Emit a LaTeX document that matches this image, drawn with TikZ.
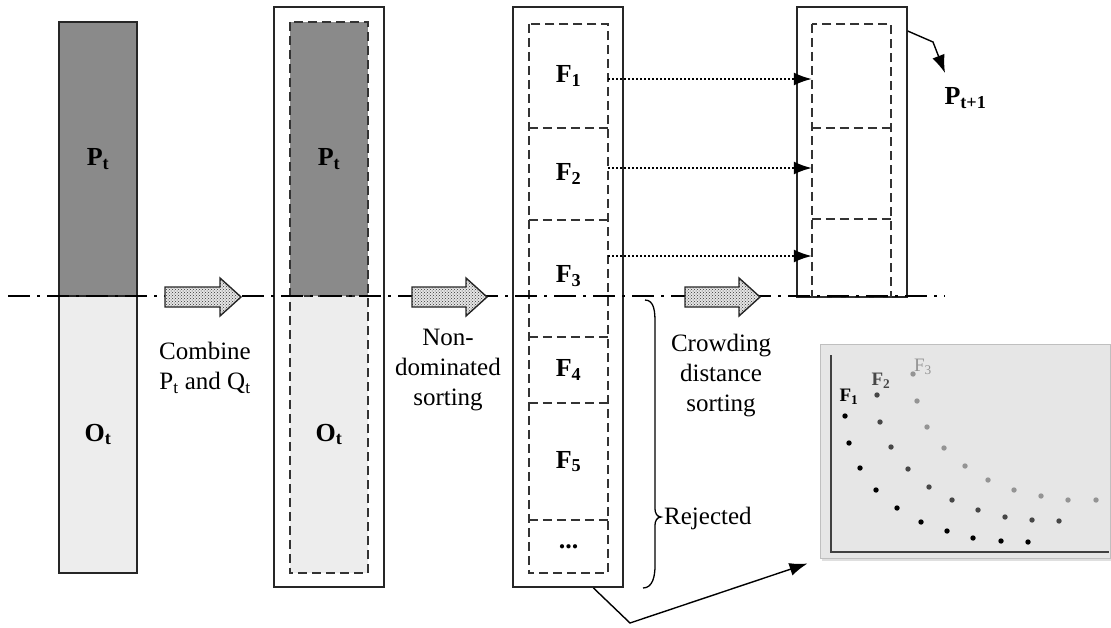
\documentclass[tikz,border=0pt]{standalone}
\usepackage{fontspec}
\setmainfont{Liberation Serif}
\usetikzlibrary{patterns,arrows.meta,shadows,calc}
\newcommand\sublab[2]{#1\textsubscript{#2}}
\newcommand\fatarw[3]{%
  \path[fatarrow] (#1,287) -- (#3,287) -- (#3,278) -- (#2,297) -- (#3,316) -- (#3,307) -- (#1,307) -- cycle;}
\definecolor{darkbarc}{HTML}{8A8A8A}
\definecolor{lightbarc}{HTML}{EDEDED}
\definecolor{panelc}{HTML}{E6E6E6}
\begin{document}
\begin{tikzpicture}[x=1pt,y=-1pt,
  txt/.style={font=\fontsize{25}{30}\selectfont, align=center, inner sep=0pt},
  blab/.style={font=\fontsize{26}{30}\selectfont\bfseries},
  solidbar/.style={draw=black!85, line width=1.8pt, inner sep=0pt},
  darkbar/.style={solidbar, fill=darkbarc},
  lightbar/.style={solidbar, fill=lightbarc},
  outerbar/.style={draw=black!85, line width=1.8pt, fill=white, inner sep=0pt},
  cell/.style={inner sep=0pt, blab},
  dashline/.style={draw=black!80, line width=1.7pt, dash pattern=on 9pt off 5pt},
  dotarr/.style={line width=1.8pt, dash pattern=on 2pt off 2pt, -{Latex[length=18pt,width=13pt]}},
  solidarr/.style={line width=1.4pt, -{Latex[length=18pt,width=13pt]}},
  axisline/.style={line width=2pt, dash pattern=on 22pt off 7pt on 3pt off 7pt},
  fatarrow/.style={preaction={fill=gray!20}, pattern=crosshatch dots, pattern color=black!80, draw=black!85, line width=1.4pt},
  dotF1/.style={fill=black},
  dotF2/.style={fill=black!72},
  dotF3/.style={fill=black!42}
]
\useasboundingbox (0,0) rectangle (1111,627);

% ---- bar 1
\node[darkbar, minimum width=78, minimum height=274] (p1) at (98,159) {};
\node[lightbar, minimum width=78, minimum height=277] (o1) at (98,434.5) {};
\node[blab] at (p1) {\sublab{P}{t}};
\node[blab] at (o1) {\sublab{O}{t}};

% ---- bar 2
\node[outerbar, minimum width=110, minimum height=580] (b2) at (329,297) {};
\node[fill=darkbarc, inner sep=0pt, minimum width=78, minimum height=274] (p2) at (329,159) {};
\node[fill=lightbarc, inner sep=0pt, minimum width=78, minimum height=277] (o2) at (329,434.5) {};
\node[blab] at (p2) {\sublab{P}{t}};
\node[blab] at (o2) {\sublab{O}{t}};
\draw[dashline] (p2.north west) rectangle (o2.south east);
\draw[dashline] (p2.south west) -- (p2.south east);

% ---- bar 3
\node[outerbar, minimum width=110, minimum height=580] (b3) at (568,297) {};
\node[cell, minimum width=79, minimum height=104] (f1) at (568.5,76) {\sublab{F}{1}};
\node[cell, minimum width=79, minimum height=92] (f2) at (568.5,174) {\sublab{F}{2}};
\node[cell, minimum width=79, minimum height=117] (f3) at (568.5,276) {\sublab{F}{3}};
\node[cell, minimum width=79, minimum height=66] (f4) at (568.5,370) {\sublab{F}{4}};
\node[cell, minimum width=79, minimum height=117] (f5) at (568.5,461.5) {\sublab{F}{5}};
\node[cell, minimum width=79, minimum height=53] (f6) at (568.5,546.5) {...};
\draw[dashline] (f1.north west) rectangle (f6.south east);
\foreach \c in {f1,f2,f4,f5}
  \draw[dashline] (\c.south west) -- (\c.south east);
\draw[dashline] (f4.north west) -- (f4.north east);

% ---- bar 4
\node[outerbar, minimum width=110, minimum height=290] (b4) at (852,152) {};
\node[cell, minimum width=79, minimum height=104] (n1) at (851.5,76) {};
\node[cell, minimum width=79, minimum height=91] (n2) at (851.5,173.5) {};
\node[cell, minimum width=79, minimum height=78] (n3) at (851.5,258) {};
\draw[dashline] (n1.north west) rectangle (n3.south east);
\draw[dashline] (n1.south west) -- (n1.south east);
\draw[dashline] (n2.south west) -- (n2.south east);

% ---- dotted transfers
\draw[dotarr] (f1.east |- 0,79) -- (n1.west |- 0,79);
\draw[dotarr] (f2.east |- 0,168) -- (n2.west |- 0,168);
\draw[dotarr] (f3.east |- 0,256) -- (n3.west |- 0,256);

% ---- axis dash-dot line
\coordinate (axL) at (8,296);
\coordinate (axR) at (945,296);
\draw[axisline] (axL) -- (axR);

% ---- fat arrows
\fatarw{165}{241}{220}
\fatarw{412}{487}{466}
\fatarw{685}{760}{739}

% ---- texts
\node[txt] (tcomb) at (205,368) {Combine\\\sublab{P}{t} and \sublab{Q}{t}};
\node[txt] (tnond) at (448,370) {Non-\\dominated\\sorting};
\node[txt] (tcrowd) at (721,376) {Crowding\\distance\\sorting};

% ---- P_{t+1}
\coordinate (pk) at (933,42);
\coordinate (ptip) at (945,73);
\draw[solidarr] ([yshift=-25pt]b4.north east) -- (pk) -- (ptip);
\node[blab, anchor=west] (pnext) at (941,98) {\sublab{P}{t+1}};

% ---- rejected brace
\coordinate (brT) at (645,300);
\coordinate (brM) at (661,517);
\coordinate (brB) at (643,588);
\draw[line width=1.3pt] (brT) to[out=0,in=90] (655,322) -- (655,509) to[out=-90,in=180] (brM)
      to[out=180,in=90] (655,525) -- (655,566) to[out=-90,in=0] (brB);
\node[txt, anchor=west] (trej) at (664,518) {Rejected};

% ---- inset plot
\node[fill=panelc, draw=black!25, line width=1pt, minimum width=290, minimum height=214, inner sep=0pt,
      drop shadow={shadow xshift=2pt, shadow yshift=-3pt, opacity=0.25}] (panel) at (965,451) {};
\draw[line width=1.8pt, black!75] (831,355) -- (831,552) -- (1109,552);
\foreach \p in {(845,416),(849,443),(860,468),(876,490),(897,508),(921,522),(947,531),(973,538),(1001,541),(1028,542)}
  \path[dotF1] \p circle (2.7);
\foreach \p in {(877,395),(880,422),(891,447),(908,469),(929,487),(952,500),(978,510),(1005,517),(1032,520),(1059,521)}
  \path[dotF2] \p circle (2.7);
\foreach \p in {(913,374),(917,401),(927,427),(944,448),(965,466),(988,480),(1014,490),(1041,496),(1068,500),(1096,500)}
  \path[dotF3] \p circle (2.7);
\node[font=\fontsize{19}{22}\selectfont\bfseries, text=black] (lf1) at (849,397) {\sublab{F}{1}};
\node[font=\fontsize{19}{22}\selectfont\bfseries, text=black!72] (lf2) at (881,381) {\sublab{F}{2}};
\node[font=\fontsize{19}{22}\selectfont, text=black!42] (lf3) at (923,367) {\sublab{F}{3}};

% ---- connector to inset
\coordinate (kink) at (630,623);
\draw[solidarr] ($(b3.south west)!0.727!(b3.south east)$) -- (kink) -- ([xshift=-12pt,yshift=-5pt]panel.south west);
\end{tikzpicture}
\end{document}
